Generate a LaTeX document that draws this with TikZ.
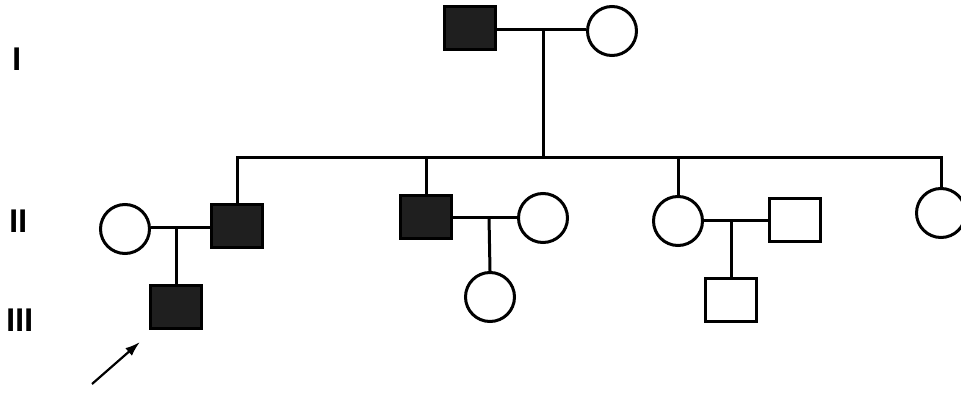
\documentclass[tikz,border=0pt]{standalone}
\usepackage{fontspec}
\setsansfont{DejaVu Sans}
\usepackage{tikz}
\usetikzlibrary{arrows.meta}
\tikzset{male/.style = {draw, rectangle, line width = 3pt, minimum width = 51, minimum height = 43, inner sep = 0}}
\tikzset{female/.style = {draw, circle, line width = 3pt, minimum size = 49, inner sep = 0}}
\tikzset{affected/.style = {male, fill = black!88}}
\tikzset{gen/.style = {inner sep = 0, font = {\fontsize{31}{36}\selectfont\sffamily\bfseries}}}
\tikzset{link/.style = {line width = 3pt}}
\newcommand{\genlabel}[1]{\scalebox{0.8}[1]{#1}}
\begin{document}
\begin{tikzpicture}[x = 1pt, y = -1pt]
      \useasboundingbox (0, 0) rectangle (961, 396);

      \node [gen] (gI) at (17, 59) {\genlabel{I}};
      \node [gen] (gII) at (19, 221) {\genlabel{II}};
      \node [gen] (gIII) at (20, 320) {\genlabel{III}};

      % generation I
      \node [affected] (I1) at (470, 28) {};
      \node [female] (I2) at (612, 31) {};
      \coordinate (mI) at (543, 30);
      \coordinate (sI) at (543, 157);

      % generation II
      \node [female] (II1) at (125, 229) {};
      \node [affected] (II2) at (237, 226) {};
      \node [affected] (II3) at (426, 217) {};
      \node [female] (II4) at (543, 218) {};
      \node [female] (II5) at (678, 221) {};
      \node [male] (II6) at (795, 220) {};
      \node [female] (II7) at (941, 213) {};
      \coordinate (m1) at (176, 227);
      \coordinate (m2) at (489, 217);
      \coordinate (m3) at (731, 220);

      % generation III
      \node [affected] (III1) at (176, 307) {};
      \node [female] (III2) at (490, 297) {};
      \node [male] (III3) at (731, 300) {};

      \draw [link] (I1.east |- mI) -- (I2.west |- mI);
      \draw [link] (mI) -- (sI);
      \draw [link] (II2.north) -- (II2.north |- sI) -- (II7.north |- sI) -- (II7.north);
      \draw [link] (II3.north) -- (II3.north |- sI);
      \draw [link] (II5.north) -- (II5.north |- sI);

      \draw [link] (II1.east |- m1) -- (II2.west |- m1);
      \draw [link] (m1) -- (III1.north);
      \draw [link] (II3.east |- m2) -- (II4.west |- m2);
      \draw [link] (m2) -- (III2.north);
      \draw [link] (II5.east |- m3) -- (II6.west |- m3);
      \draw [link] (m3) -- (III3.north);

      \coordinate (arr0) at (92, 384);
      \coordinate (arr1) at (140, 342);
      \draw [line width = 2.2pt, -{Latex[length = 15pt, width = 10pt]}] (arr0) -- (arr1);
    \end{tikzpicture}
\end{document}
